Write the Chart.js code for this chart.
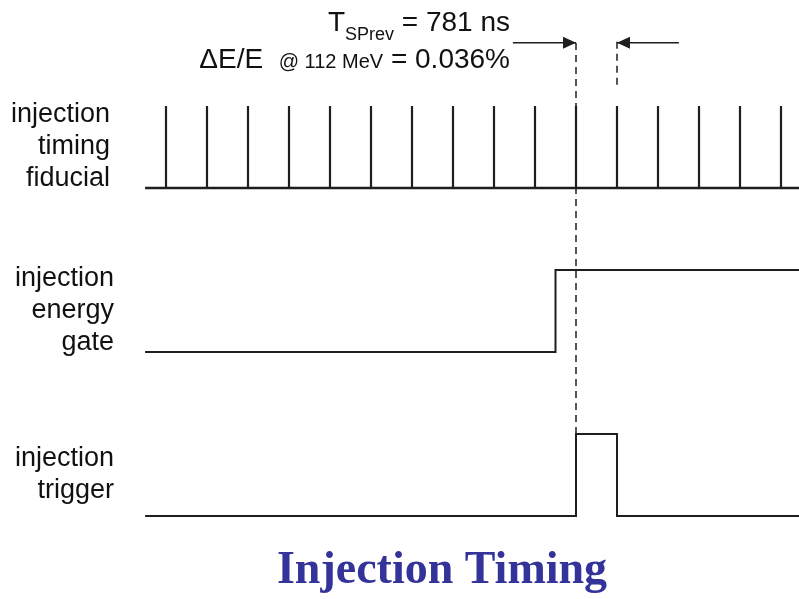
<!DOCTYPE html>
<html>
<head>
<meta charset="utf-8">
<script src="https://cdn.jsdelivr.net/npm/chart.js@4"></script>
<style>
  html, body { margin: 0; padding: 0; background: #fff; }
  #wrap { width: 799px; height: 599px; }
</style>
</head>
<body>
<div id="wrap"><canvas id="timingChart" width="799" height="599"></canvas></div>
<script>
  // time axis is in fiducial periods (1 period = 781 ns)
  const fiducialTimes = [0, 1, 2, 3, 4, 5, 6, 7, 8, 9, 10, 11, 12, 13, 14, 15];
  const traceStart = -0.51;
  const traceEnd = 15.45;

  // each signal sits on its own lane, level 0 = low, 1 = high
  const laneBase = [4, 2, 0];
  const laneLabels = [
    ['injection', 'timing', 'fiducial'],
    ['injection', 'energy', 'gate'],
    ['injection', 'trigger']
  ];

  const gateTimes = [traceStart, 9.5, 9.5, traceEnd];
  const gateLevels = [0, 0, 1, 1];

  const triggerTimes = [traceStart, 10, 10, 11, 11, traceEnd];
  const triggerLevels = [0, 0, 1, 1, 0, 0];

  // T_SPrev window markers
  const markerTimes = [10, 11];
  const arrowFrom = [8.46, 12.51];

  const noteLine1 = [['T', 28, 0], ['SPrev', 18, 9], [' = 781 ns', 28, 0]];
  const noteLine2 = [['\u0394E/E  ', 28, 0], ['@ 112 MeV', 20, 0], [' = 0.036%', 28, 0]];
  const chartTitle = 'Injection Timing';

  const ink = '#1e1e1e';
  const markTop = 5.83;
  const arrowY = 5.77;

  const toPoints = (xs, levels, base) => xs.map((x, i) => ({ x: x, y: base + levels[i] }));

  const tickPoints = [];
  fiducialTimes.forEach(t => {
    tickPoints.push({ x: t, y: laneBase[0] });
    tickPoints.push({ x: t, y: laneBase[0] + 1 });
    tickPoints.push({ x: t, y: null });
  });

  const lineDs = (data, extra) => Object.assign({
    type: 'line',
    data: data,
    borderColor: ink,
    borderWidth: 2,
    pointRadius: 0,
    fill: false,
    spanGaps: false,
    tension: 0,
    borderCapStyle: 'butt'
  }, extra || {});

  const datasets = [
    lineDs([{ x: traceStart, y: laneBase[0] }, { x: traceEnd, y: laneBase[0] }], { borderWidth: 2.5 }),
    lineDs(tickPoints, { borderWidth: 2.2 }),
    lineDs(toPoints(gateTimes, gateLevels, laneBase[1])),
    lineDs(toPoints(triggerTimes, triggerLevels, laneBase[2])),
    lineDs([{ x: markerTimes[0], y: laneBase[2] + 1 }, { x: markerTimes[0], y: markTop }], { borderWidth: 1.5, borderDash: [7, 5] }),
    lineDs([{ x: markerTimes[1], y: 5.26 }, { x: markerTimes[1], y: markTop }], { borderWidth: 1.5, borderDash: [7, 5] }),
    lineDs([{ x: arrowFrom[0], y: arrowY }, { x: markerTimes[0], y: arrowY }], { borderWidth: 1.5, arrow: true }),
    lineDs([{ x: arrowFrom[1], y: arrowY }, { x: markerTimes[1], y: arrowY }], { borderWidth: 1.5, arrow: true })
  ];

  function drawParts(ctx, parts, right, baseline) {
    let total = 0;
    parts.forEach(p => {
      ctx.font = p[1] + 'px "Liberation Sans", Arial, sans-serif';
      total += ctx.measureText(p[0]).width;
    });
    let x = right - total;
    ctx.textAlign = 'left';
    parts.forEach(p => {
      ctx.font = p[1] + 'px "Liberation Sans", Arial, sans-serif';
      ctx.fillText(p[0], x, baseline + p[2]);
      x += ctx.measureText(p[0]).width;
    });
  }

  const decorations = {
    id: 'decorations',
    afterDatasetsDraw(chart) {
      const ctx = chart.ctx;
      const xs = chart.scales.x, ys = chart.scales.y;
      ctx.save();

      // arrow heads
      ctx.fillStyle = ink;
      chart.data.datasets.forEach(ds => {
        if (!ds.arrow) return;
        const a = ds.data[0], b = ds.data[1];
        const tx = xs.getPixelForValue(b.x), ty = ys.getPixelForValue(b.y);
        const dir = Math.sign(b.x - a.x);
        ctx.beginPath();
        ctx.moveTo(tx, ty);
        ctx.lineTo(tx - dir * 13, ty - 6);
        ctx.lineTo(tx - dir * 13, ty + 6);
        ctx.closePath();
        ctx.fill();
      });

      // lane labels
      ctx.fillStyle = '#111';
      ctx.textAlign = 'right';
      ctx.textBaseline = 'alphabetic';
      ctx.font = '27px "Liberation Sans", Arial, sans-serif';
      const labelRight = [110, 114, 114];
      const labelBottom = [186, 350, 498];
      laneLabels.forEach((lines, i) => {
        lines.forEach((txt, j) => {
          const y = labelBottom[i] - (lines.length - 1 - j) * 32;
          ctx.fillText(txt, labelRight[i], y);
        });
      });

      // T_SPrev note
      drawParts(ctx, noteLine1, 510, 31);
      drawParts(ctx, noteLine2, 510, 68);

      // title
      ctx.fillStyle = '#333399';
      ctx.textAlign = 'center';
      ctx.font = 'bold 46px "Liberation Serif", "Times New Roman", serif';
      ctx.fillText(chartTitle, 442, 583);

      ctx.restore();
    }
  };

  const config = {
    type: 'line',
    data: { datasets: datasets },
    options: {
      responsive: false,
      animation: false,
      events: [],
      layout: { padding: 0 },
      plugins: {
        legend: { display: false },
        tooltip: { enabled: false },
        title: { display: false }
      },
      scales: {
        x: { type: 'linear', display: false, min: -166 / 41, max: (799 - 166) / 41 },
        y: { type: 'linear', display: false, min: -83 / 82, max: 4 + 188 / 82 }
      }
    },
    plugins: [decorations]
  };

  window.addEventListener('DOMContentLoaded', function() {
    const ctx = document.getElementById('timingChart').getContext('2d');
    new Chart(ctx, config);
  });
</script>
</body>
</html>
